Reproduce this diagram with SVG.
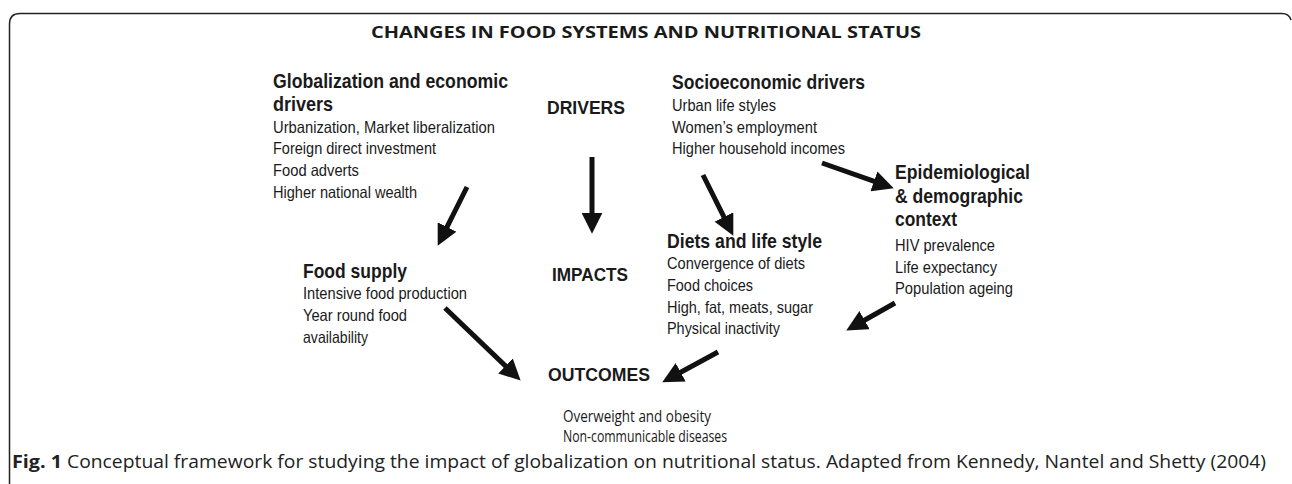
<svg xmlns="http://www.w3.org/2000/svg" width="1292" height="484" viewBox="0 0 1292 484">
<style>
.h{font-family:"Liberation Sans",Arial,sans-serif;font-weight:bold;font-size:21px;fill:#1a1a1a}
.t{font-family:"Liberation Sans",Arial,sans-serif;font-size:16.5px;fill:#1a1a1a}
.c{font-family:"Liberation Sans",Arial,sans-serif;font-weight:bold;font-size:19px;fill:#1a1a1a}
.title{font-family:"Open Sans",sans-serif;font-weight:bold;font-size:16px;fill:#1a1a1a}
.o{font-family:"Open Sans",sans-serif;font-size:16px;fill:#1a1a1a}
.cap{font-family:"Open Sans",sans-serif;font-size:18px;fill:#222}
.conn line{stroke:#111;stroke-width:5;marker-end:url(#ah)}
</style>
<defs>
<marker id="ah" markerUnits="userSpaceOnUse" viewBox="0 0 20 20" refX="4" refY="10" markerWidth="21" markerHeight="21" orient="auto">
<path d="M0,0 L20,10 L0,20 z" fill="#111"/>
</marker>
</defs>
<rect width="1292" height="484" fill="#fff"/>
<path d="M9.5,484 L9.5,24 Q9.5,13.5 20,13.5 L1282,13.5 Q1289,13.5 1291,20" fill="none" stroke="#222" stroke-width="1.5"/>
<text class="title" x="371" y="38" textLength="550" lengthAdjust="spacingAndGlyphs">CHANGES IN FOOD SYSTEMS AND NUTRITIONAL STATUS</text>

<g id="globalization">
<text class="h" x="273" y="88" textLength="235" lengthAdjust="spacingAndGlyphs">Globalization and economic</text>
<text class="h" x="273" y="111" textLength="60" lengthAdjust="spacingAndGlyphs">drivers</text>
<text class="t" x="273" y="133" textLength="222" lengthAdjust="spacingAndGlyphs">Urbanization, Market liberalization</text>
<text class="t" x="273" y="154" textLength="163" lengthAdjust="spacingAndGlyphs">Foreign direct investment</text>
<text class="t" x="273" y="176" textLength="86" lengthAdjust="spacingAndGlyphs">Food adverts</text>
<text class="t" x="273" y="198" textLength="144" lengthAdjust="spacingAndGlyphs">Higher national wealth</text>
</g>
<g id="drivers"><text class="c" x="547" y="114" textLength="78" lengthAdjust="spacingAndGlyphs">DRIVERS</text></g>
<g id="socioeconomic">
<text class="h" x="672" y="89" textLength="193" lengthAdjust="spacingAndGlyphs">Socioeconomic drivers</text>
<text class="t" x="672" y="111" textLength="104" lengthAdjust="spacingAndGlyphs">Urban life styles</text>
<text class="t" x="672" y="133" textLength="145" lengthAdjust="spacingAndGlyphs">Women’s employment</text>
<text class="t" x="672" y="154" textLength="173" lengthAdjust="spacingAndGlyphs">Higher household incomes</text>
</g>
<g id="epidemiological">
<text class="h" x="895" y="179" textLength="135" lengthAdjust="spacingAndGlyphs">Epidemiological</text>
<text class="h" x="895" y="203" textLength="128" lengthAdjust="spacingAndGlyphs">&amp; demographic</text>
<text class="h" x="895" y="226" textLength="62" lengthAdjust="spacingAndGlyphs">context</text>
<text class="t" x="895" y="251" textLength="100" lengthAdjust="spacingAndGlyphs">HIV prevalence</text>
<text class="t" x="895" y="273" textLength="102" lengthAdjust="spacingAndGlyphs">Life expectancy</text>
<text class="t" x="895" y="294" textLength="118" lengthAdjust="spacingAndGlyphs">Population ageing</text>
</g>
<g id="diets">
<text class="h" x="667" y="248" textLength="155" lengthAdjust="spacingAndGlyphs">Diets and life style</text>
<text class="t" x="667" y="269" textLength="138" lengthAdjust="spacingAndGlyphs">Convergence of diets</text>
<text class="t" x="667" y="291" textLength="86" lengthAdjust="spacingAndGlyphs">Food choices</text>
<text class="t" x="667" y="313" textLength="146" lengthAdjust="spacingAndGlyphs">High, fat, meats, sugar</text>
<text class="t" x="667" y="334" textLength="113" lengthAdjust="spacingAndGlyphs">Physical inactivity</text>
</g>
<g id="foodsupply">
<text class="h" x="303" y="278" textLength="104" lengthAdjust="spacingAndGlyphs">Food supply</text>
<text class="t" x="303" y="299" textLength="164" lengthAdjust="spacingAndGlyphs">Intensive food production</text>
<text class="t" x="303" y="321" textLength="104" lengthAdjust="spacingAndGlyphs">Year round food</text>
<text class="t" x="303" y="343" textLength="65" lengthAdjust="spacingAndGlyphs">availability</text>
</g>
<g id="impacts"><text class="c" x="552" y="281" textLength="76" lengthAdjust="spacingAndGlyphs">IMPACTS</text></g>
<g id="outcomes">
<text class="c" x="548" y="381" textLength="102" lengthAdjust="spacingAndGlyphs">OUTCOMES</text>
<text class="o" x="563" y="422" textLength="148" lengthAdjust="spacingAndGlyphs">Overweight and obesity</text>
<text class="o" x="563" y="442" textLength="164" lengthAdjust="spacingAndGlyphs">Non-communicable diseases</text>
</g>

<g id="connectors" class="conn">
<line x1="467" y1="187" x2="445.2" y2="230.7"/>
<line x1="592" y1="157" x2="592" y2="217"/>
<line x1="703" y1="175" x2="725.8" y2="220.7"/>
<line x1="822" y1="163" x2="877.9" y2="182.7"/>
<line x1="895" y1="303" x2="860.9" y2="322.2"/>
<line x1="718" y1="352" x2="677" y2="374.3"/>
<line x1="445" y1="308" x2="508.5" y2="368.9"/>
</g>

<text class="cap" y="468"><tspan x="12" font-weight="bold" textLength="50" lengthAdjust="spacingAndGlyphs">Fig. 1</tspan><tspan x="67" textLength="1199" lengthAdjust="spacingAndGlyphs">Conceptual framework for studying the impact of globalization on nutritional status. Adapted from Kennedy, Nantel and Shetty (2004)</tspan></text>
</svg>
